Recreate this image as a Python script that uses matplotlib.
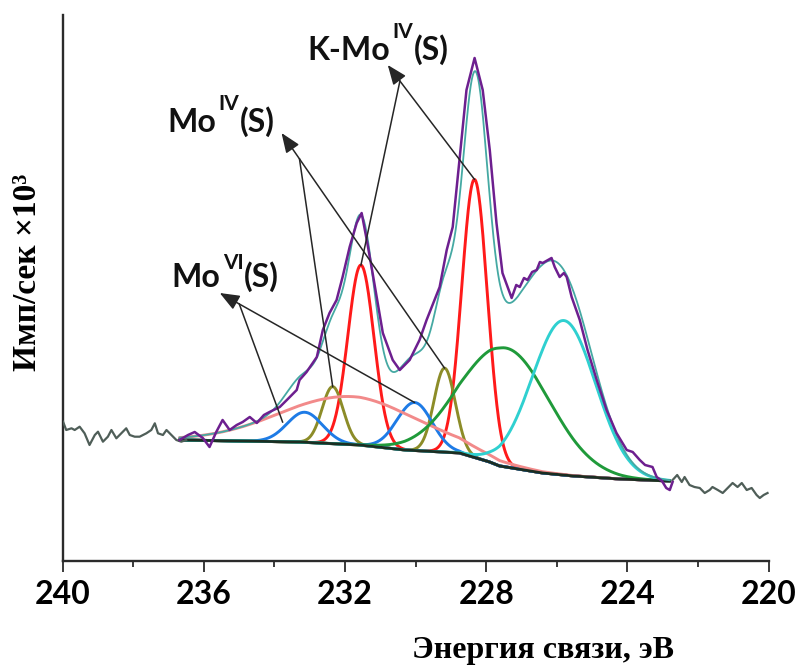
import numpy as np
import matplotlib
matplotlib.use("Agg")
import matplotlib.pyplot as plt

# ---------------- data ----------------
# flat wings of the scan (outside the fitted window)
wing_left_x = [239.99, 239.90, 239.75, 239.66, 239.52, 239.38, 239.24, 239.09, 239.00,
               238.86, 238.72, 238.62, 238.48, 238.34, 238.20, 238.10, 237.96, 237.82,
               237.63, 237.49, 237.39, 237.30, 237.16, 237.06, 236.92, 236.78, 236.64, 236.50]
wing_left_y = [14.93, 14.10, 14.27, 14.10, 14.43, 13.77, 12.60, 13.60, 13.93,
               12.93, 13.43, 14.10, 13.27, 13.77, 14.27, 13.60, 13.43, 13.43,
               13.77, 14.10, 14.77, 13.77, 13.60, 14.10, 13.60, 13.10, 12.93, 13.10]

wing_right_x = [222.72, 222.59, 222.46, 222.38, 222.24, 222.10, 221.95, 221.81, 221.67,
                221.59, 221.44, 221.30, 221.16, 221.02, 220.88, 220.76, 220.62, 220.48,
                220.34, 220.25, 220.14, 220.03]
wing_right_y = [9.1, 9.6, 8.9, 9.4, 8.6, 8.4, 8.3, 7.8, 8.1,
                8.4, 8.1, 7.8, 8.3, 8.8, 8.4, 8.8, 8.1, 8.3,
                7.6, 7.3, 7.6, 7.8]

# measured Mo 3d region
spectrum_x = [236.69, 236.45, 236.26, 236.03, 235.84, 235.65, 235.47, 235.27, 235.07, 234.90,
              234.70, 234.50, 234.30, 234.14, 233.85, 233.65, 233.37, 233.29, 233.09, 232.80,
              232.63, 232.44, 232.24, 232.07, 231.87, 231.67, 231.53, 231.38, 231.22, 230.93,
              230.65, 230.45, 230.17, 229.89, 229.69, 229.32, 229.12, 228.95, 228.75, 228.56,
              228.33, 228.10, 227.90, 227.71, 227.54, 227.28, 227.15, 227.05, 226.93, 226.83,
              226.70, 226.57, 226.48, 226.40, 226.25, 226.15, 226.06, 225.92, 225.80, 225.72,
              225.58, 225.35, 225.13, 224.87, 224.59, 224.31, 224.02, 223.85, 223.65, 223.50,
              223.29, 223.17, 223.02, 222.90, 222.80, 222.72]
spectrum_y = [13.1, 13.6, 13.9, 13.3, 12.4, 13.9, 15.1, 14.1, 14.6, 14.9,
              15.4, 14.8, 15.6, 15.9, 16.4, 17.1, 18.1, 19.1, 19.9, 21.4,
              24.1, 25.8, 27.1, 29.4, 32.4, 34.8, 35.8, 33.0, 29.8, 23.8,
              21.1, 20.1, 21.1, 23.1, 25.1, 28.4, 32.1, 34.4, 41.4, 48.1,
              51.3, 48.1, 42.1, 34.8, 29.8, 27.3, 28.6, 28.4, 29.3, 29.1,
              29.9, 30.1, 30.9, 30.8, 31.1, 31.3, 30.4, 29.4, 29.8, 29.4,
              27.4, 25.1, 22.1, 19.1, 16.1, 13.8, 12.1, 11.9, 11.1, 10.6,
              10.4, 9.4, 9.0, 8.3, 8.1, 8.9]

# Shirley-type background
background_x = [236.69, 233.29, 231.58, 230.30, 228.75, 228.47, 227.90, 227.62, 226.40,
                225.52, 224.22, 222.80]
background_y = [13.1, 12.9, 12.6, 12.1, 11.8, 11.5, 10.9, 10.5, 9.8,
                9.5, 9.2, 9.0]

# fitted gaussian components: centre (eV), height above background, sigma (eV)
comp_center = [231.55, 228.33, 232.35, 229.18, 233.14, 230.03, 231.80, 227.45, 225.80]
comp_height = [18.0, 27.8, 5.7, 8.4, 3.0, 4.8, 4.8, 11.9, 15.45]
comp_sigma = [0.37, 0.36, 0.30, 0.30, 0.50, 0.50, 2.00, 1.25, 0.90]
comp_color = ["#ff1a1a", "#ff1a1a", "#8c8c28", "#8c8c28", "#1e7be6", "#1e7be6",
              "#f28a8a", "#1f9a3a", "#2fd0d0"]

x_ticks = [240, 236, 232, 228, 224, 220]
x_tick_labels = ["240", "236", "232", "228", "224", "220"]
x_minor_ticks = [238, 234, 230, 226, 222]

# ---------------- figure ----------------
fig = plt.figure(figsize=(7.99, 6.66), dpi=100)
ax = fig.add_axes([62.7 / 799, (666 - 561) / 666, (768.6 - 62.7) / 799, (561 - 15) / 666])

ax.set_xlim(240, 220)
ax.set_ylim(1.0, 55.6)


def background(x):
    return np.interp(x, background_x[::-1], background_y[::-1])


def gauss(x, c, h, s):
    return h * np.exp(-0.5 * ((x - c) / s) ** 2)


xx = np.linspace(min(background_x), max(background_x), 1200)
bg = background(xx)
envelope = bg.copy()
for c, h, s, col in zip(comp_center, comp_height, comp_sigma, comp_color):
    g = gauss(xx, c, h, s)
    envelope += g
    ax.plot(xx, bg + g, color=col, lw=2.1, zorder=3, solid_capstyle="round")

ax.plot(background_x, background_y, color="#1c2e22", lw=2.0, zorder=4)
ax.plot(wing_left_x, wing_left_y, color="#4f5e58", lw=1.6, zorder=4)
ax.plot(wing_right_x, wing_right_y, color="#4f5e58", lw=1.6, zorder=4)
ax.plot(xx, envelope, color="#45a9a3", lw=1.3, zorder=5)
ax.plot(spectrum_x, spectrum_y, color="#6d1f8f", lw=1.8, zorder=6)

# ---------------- labels with arrows ----------------
main_fs = 23
sup_fs = 15
label_font = "Lato"


def peak_top(i):
    c = comp_center[i]
    return (c, float(background(c)) + comp_height[i])


labels = [
    dict(main="K-Mo", sup="IV", pos=(233.06, 51.1), raise_pt=16, tip=(230.79, 50.6),
         primary=1, secondary=peak_top(0), fork=0.14),
    dict(main="Mo", sup="IV", pos=(237.03, 43.9), raise_pt=16, tip=(233.80, 43.8),
         primary=3, secondary=peak_top(2), fork=0.11),
    dict(main="Mo", sup="VI", pos=(236.91, 28.4), raise_pt=13, tip=(235.55, 27.8),
         primary=5, secondary=(233.77, 14.9), fork=0.10),
]

for lab in labels:
    x0, y0 = lab["pos"]
    t1 = ax.text(x0, y0, lab["main"], fontsize=main_fs, fontweight="bold",
                 family=label_font, va="baseline", ha="left", color="#111111", zorder=8)
    t2 = ax.annotate(lab["sup"], xy=(1, y0), xycoords=(t1, "data"),
                     xytext=(1.5, lab["raise_pt"]), textcoords="offset points",
                     fontsize=sup_fs, fontweight="bold", family=label_font,
                     va="baseline", ha="left", color="#111111", zorder=8)
    ax.annotate("(S)", xy=(1, y0), xycoords=(t2, "data"),
                xytext=(0.5, 0), textcoords="offset points",
                fontsize=main_fs, fontweight="bold", family=label_font,
                va="baseline", ha="left", color="#111111", zorder=8)

    tx, ty = lab["tip"]
    px_, py_ = peak_top(lab["primary"])
    ax.annotate("", xy=(tx, ty), xytext=(px_, py_),
                arrowprops=dict(arrowstyle="-|>,head_length=0.75,head_width=0.3",
                                color="#262626", lw=1.1, shrinkA=0, shrinkB=0,
                                mutation_scale=16), zorder=9)
    f = lab["fork"]
    fx = tx + f * (px_ - tx)
    fy = ty + f * (py_ - ty)
    sx, sy = lab["secondary"]
    ax.plot([fx, sx], [fy, sy], color="#262626", lw=1.1, zorder=9)

# ---------------- axes styling ----------------
for side in ("top", "right"):
    ax.spines[side].set_visible(False)
for side in ("left", "bottom"):
    ax.spines[side].set_linewidth(1.7)
    ax.spines[side].set_color("#2b2b2b")

ax.set_yticks([])
ax.set_xticks(x_ticks, labels=x_tick_labels, fontsize=23,
              fontfamily="Lato", fontweight="bold")
ax.set_xticks(x_minor_ticks, minor=True)
ax.tick_params(axis="x", which="major", direction="out", length=8, width=1.3,
               color="#2b2b2b", pad=6)
ax.tick_params(axis="x", which="minor", direction="out", length=4.5, width=1.3,
               color="#2b2b2b")

fig.text(543 / 799, 8 / 666, "Энергия связи, эВ", ha="center", va="baseline",
         fontsize=23, fontweight="bold", family="Liberation Serif")
fig.text(28 / 799, (666 - 272) / 666, "Имп/сек ×10³", ha="center", va="center",
         rotation=90, fontsize=24, fontweight="bold", family="Liberation Serif")

fig.savefig("out.png", dpi=100)
